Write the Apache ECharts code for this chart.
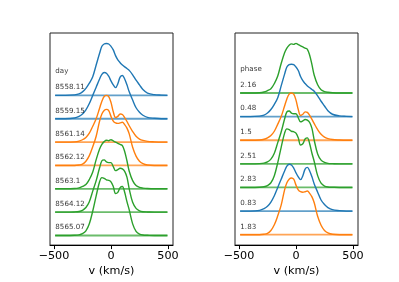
<!DOCTYPE html>
<html>
<head>
<meta charset="utf-8">
<script src="https://cdn.jsdelivr.net/npm/echarts@6/dist/echarts.min.js"></script>
<style>
html,body{margin:0;padding:0;background:#fff;}
#c{width:399px;height:282px;}
</style>
</head>
<body>
<div id="c"></div>
<script>
// velocity grid (km/s)
const vel = [-490,-400,-320,-280,-250,-220,-190,-160,-130,-100,-80,-60,-40,-20,0,20,40,60,80,100,120,140,160,190,220,250,280,320,380,440,495];

// profiles (height above each baseline, in units of the vertical offset step)
const prof8558_11 = [0,0,0.02,0.06,0.15,0.3,0.52,0.8,1.3,1.8,2.1,2.2,2.22,2.2,2.1,1.95,1.7,1.52,1.4,1.3,1.22,1.15,1.07,0.88,0.65,0.45,0.25,0.1,0.03,0.01,0];
const prof8559_15 = [0,0,0.03,0.1,0.2,0.38,0.65,1.0,1.35,1.7,1.9,1.98,1.95,1.82,1.62,1.45,1.33,1.5,1.78,1.85,1.7,1.45,1.15,0.8,0.47,0.28,0.15,0.06,0.02,0,0];
const prof8561_14 = [0,0,0.01,0.04,0.1,0.2,0.38,0.68,1.0,1.45,1.75,1.95,2.0,1.95,1.7,1.3,1.05,1.1,1.2,1.18,1.05,0.88,0.7,0.45,0.25,0.13,0.07,0.03,0.01,0,0];
const prof8562_12 = [0,0,0,0.02,0.06,0.18,0.42,0.8,1.25,1.9,2.2,2.35,2.4,2.35,2.1,1.9,1.82,1.8,1.82,1.85,1.75,1.6,1.35,0.78,0.4,0.18,0.08,0.02,0,0,0];
const prof8563_1  = [0,0,0.01,0.04,0.1,0.18,0.4,0.72,1.25,1.7,1.9,2.02,2.08,2.06,2.1,2.05,2.0,1.95,1.9,1.85,1.6,1.2,0.75,0.35,0.14,0.06,0.03,0.01,0,0,0];
const prof8564_12 = [0,0,0.01,0.03,0.08,0.2,0.45,0.9,1.35,1.9,2.2,2.24,2.15,2.12,2.12,1.95,1.78,1.82,1.88,1.85,1.75,1.5,1.0,0.42,0.16,0.06,0.02,0.01,0,0,0];
const prof8565_07 = [0,0,0.01,0.03,0.08,0.2,0.5,1.05,1.7,2.3,2.48,2.45,2.38,2.36,2.3,2.1,1.8,1.85,2.05,2.1,1.85,1.45,1.1,0.5,0.18,0.06,0.02,0.01,0,0,0];

// left panel (by day, top to bottom)
const dayLabels = ['8558.11','8559.15','8561.14','8562.12','8563.1','8564.12','8565.07'];
const dayProfiles = [prof8558_11,prof8559_15,prof8561_14,prof8562_12,prof8563_1,prof8564_12,prof8565_07];
const dayColors = ['#1f77b4','#1f77b4','#ff7f0e','#ff7f0e','#2ca02c','#2ca02c','#2ca02c'];

// right panel (by phase, top to bottom)
const phaseLabels = ['2.16','0.48','1.5','2.51','2.83','0.83','1.83'];
const phaseProfiles = [prof8563_1,prof8558_11,prof8561_14,prof8564_12,prof8565_07,prof8559_15,prof8562_12];
const phaseColors = ['#2ca02c','#1f77b4','#ff7f0e','#2ca02c','#2ca02c','#1f77b4','#ff7f0e'];

const xTicks = [-500,0,500];
const FONT = 'DejaVu Sans';

function panel(gi, labels, profiles, colors, header) {
  const s = [];
  const n = labels.length;
  for (let i = 0; i < n; i++) {
    const off = n - 1 - i;
    s.push({
      type:'line', xAxisIndex:gi, yAxisIndex:gi, showSymbol:false, symbol:'none', silent:true,
      data:[[vel[0], off],[vel[vel.length-1], off]],
      lineStyle:{color:colors[i], width:1.8, opacity:0.7}, z:2
    });
    s.push({
      type:'line', xAxisIndex:gi, yAxisIndex:gi, showSymbol:false, symbol:'none', silent:true,
      smooth:0.35,
      data: vel.map((v,k)=>[v, profiles[i][k]+off]),
      lineStyle:{color:colors[i], width:1.4}, z:3
    });
  }
  const txt = labels.map((l,i)=>({value:[-488, (n-1-i)+0.34], name:l}));
  txt.push({value:[-488, 7.02], name:header});
  s.push({
    type:'scatter', xAxisIndex:gi, yAxisIndex:gi, symbolSize:0, silent:true,
    data:txt,
    label:{show:true, position:'right', distance:0, formatter:p=>p.name,
      fontFamily:FONT, fontSize:7.1, color:'#000'}, z:5
  });
  return s;
}

const xAxisBase = (gi)=>({
  type:'value', gridIndex:gi, min:-535, max:544,
  name:'v (km/s)', nameLocation:'middle', nameGap:16,
  nameTextStyle:{fontFamily:FONT, fontSize:11.2, color:'#000'},
  axisLine:{show:true, onZero:false, lineStyle:{color:'#000', width:1}},
  axisTick:{show:true, inside:false, length:4, customValues:xTicks, lineStyle:{color:'#000', width:1}},
  axisLabel:{show:true, margin:5, customValues:xTicks, fontFamily:FONT, fontSize:11.2, color:'#000',
    formatter:v=> (v<0 ? '\u2212'+Math.abs(v) : ''+v)},
  splitLine:{show:false}
});

const option = {
  animation:false,
  backgroundColor:'#fff',
  grid:[
    {left:50, top:33, width:123, height:216, show:true, borderColor:'#222', borderWidth:1},
    {left:235, top:33, width:123, height:216, show:true, borderColor:'#222', borderWidth:1}
  ],
  xAxis:[xAxisBase(0), xAxisBase(1)],
  yAxis:[
    {type:'value', gridIndex:0, min:-0.41, max:8.67, show:false},
    {type:'value', gridIndex:1, min:-0.44, max:8.54, show:false}
  ],
  series:[].concat(
    panel(0, dayLabels, dayProfiles, dayColors, 'day'),
    panel(1, phaseLabels, phaseProfiles, phaseColors, 'phase')
  )
};

const chart = echarts.init(document.getElementById('c'), null, {renderer:'canvas'});
chart.setOption(option);
</script>
</body>
</html>
